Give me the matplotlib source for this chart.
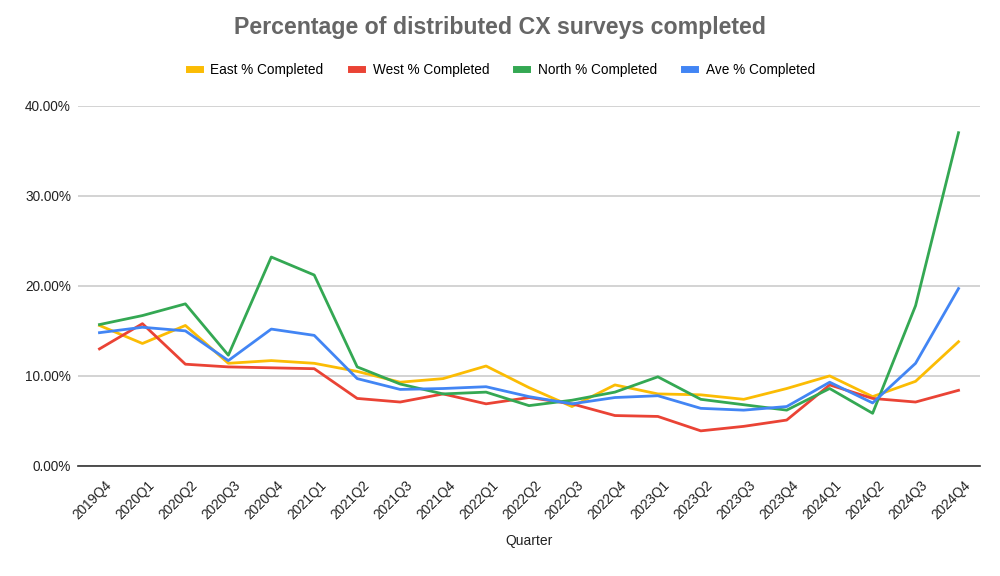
import numpy as np
import matplotlib.pyplot as plt
import matplotlib.transforms as mtransforms
from matplotlib.ticker import FuncFormatter

plt.rcParams['font.family'] = ['Liberation Sans', 'DejaVu Sans']

quarters = ['2019Q4', '2020Q1', '2020Q2', '2020Q3', '2020Q4', '2021Q1', '2021Q2',
            '2021Q3', '2021Q4', '2022Q1', '2022Q2', '2022Q3', '2022Q4', '2023Q1',
            '2023Q2', '2023Q3', '2023Q4', '2024Q1', '2024Q2', '2024Q3', '2024Q4']

east = [15.6, 13.6, 15.6, 11.4, 11.7, 11.4, 10.5, 9.3, 9.7, 11.1, 8.7,
        6.6, 9.0, 8.0, 7.9, 7.4, 8.6, 10.0, 7.7, 9.4, 13.8]
west = [13.0, 15.8, 11.3, 11.0, 10.9, 10.8, 7.5, 7.1, 8.0, 6.9, 7.6,
        6.9, 5.6, 5.5, 3.9, 4.4, 5.1, 9.0, 7.5, 7.1, 8.4]
north = [15.7, 16.7, 18.0, 12.3, 23.2, 21.2, 11.0, 9.1, 8.0, 8.2, 6.7,
         7.3, 8.2, 9.9, 7.4, 6.8, 6.2, 8.6, 5.85, 17.8, 37.0]
ave = [14.8, 15.4, 15.0, 11.7, 15.2, 14.5, 9.7, 8.5, 8.6, 8.8, 7.7,
       6.9, 7.6, 7.8, 6.4, 6.2, 6.6, 9.3, 7.0, 11.4, 19.7]

series = [('East % Completed', east, '#fbbc04'),
          ('West % Completed', west, '#ea4335'),
          ('North % Completed', north, '#34a853'),
          ('Ave % Completed', ave, '#4285f4')]

fig = plt.figure(figsize=(10, 5.76), dpi=100)
ax = fig.add_axes([0.078, 0.191, 0.902, 0.6255])

x = np.arange(len(quarters))
for name, vals, col in series:
    ax.plot(x, vals, color=col, lw=2, label=name)

ax.set_xlim(-0.5, len(quarters) - 0.5)
ax.set_ylim(0, 40)
ax.set_yticks([0, 10, 20, 30, 40])
ax.yaxis.set_major_formatter(FuncFormatter(lambda v, p: f'{v:.2f}%'))
ax.grid(axis='y', color='#cccccc', lw=1.2)
ax.set_axisbelow(True)
for s in ['top', 'right', 'left']:
    ax.spines[s].set_visible(False)
ax.spines['bottom'].set_color('#333333')
ax.spines['bottom'].set_linewidth(1.2)
ax.tick_params(axis='both', length=0, labelsize=9.8, colors='#222222')
ax.tick_params(axis='y', pad=5)
ax.set_xticks(x)
ax.set_xticklabels(quarters, rotation=45, ha='right', va='top', rotation_mode='anchor')
# nudge the slanted labels down and right, like the original
shift = mtransforms.ScaledTranslation(0.05, -0.07, fig.dpi_scale_trans)
for lab in ax.get_xticklabels():
    lab.set_transform(lab.get_transform() + shift)

ax.set_xlabel('Quarter', fontsize=10, color='#222222', labelpad=9)

fig.text(0.5, 0.952, 'Percentage of distributed CX surveys completed',
         ha='center', va='center', fontsize=16.7, fontweight='bold', color='#666666')
fig.legend(loc='center', bbox_to_anchor=(0.502, 0.879), ncol=4, frameon=False,
           fontsize=9.8, handlelength=0.8, handletextpad=0.8, columnspacing=2.0)
for line in fig.legends[0].get_lines():
    line.set_linewidth(5)

fig.savefig('out.png', dpi=100)
